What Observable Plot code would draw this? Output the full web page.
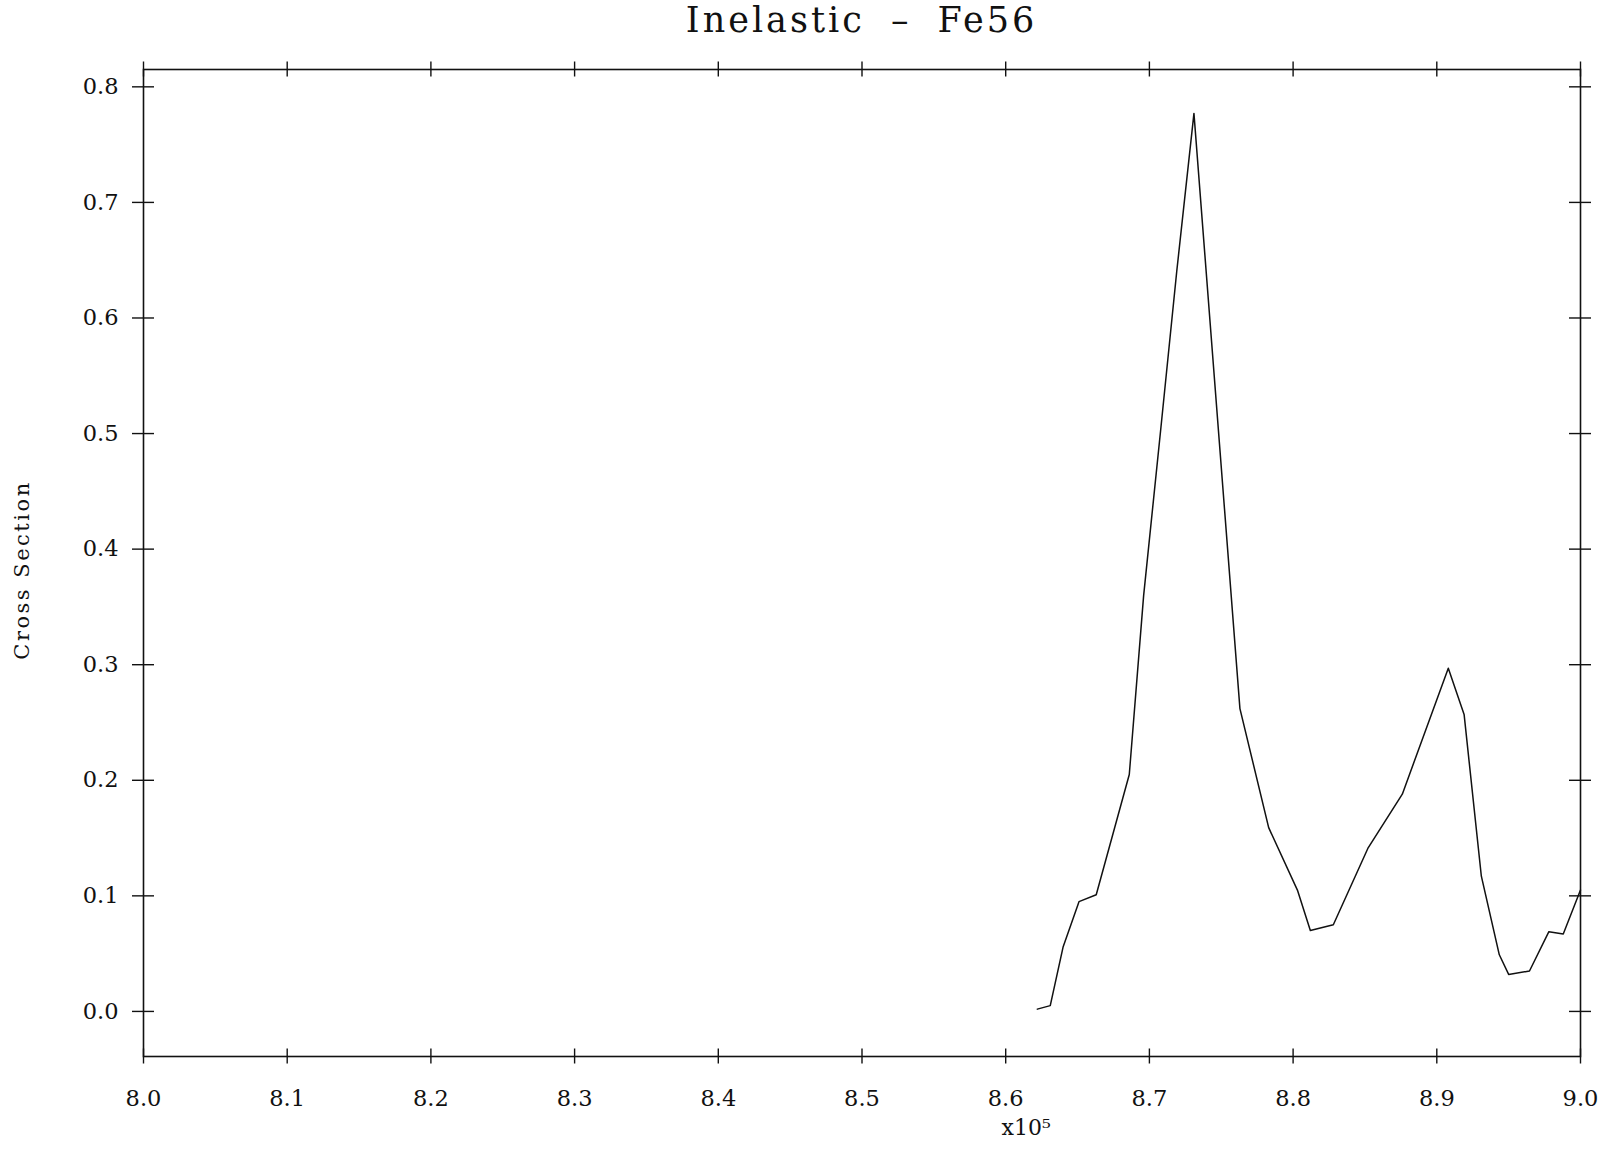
<!DOCTYPE html>
<html>
<head>
<meta charset="utf-8">
<script src="https://cdn.jsdelivr.net/npm/d3@7"></script>
<script src="https://cdn.jsdelivr.net/npm/@observablehq/plot@0.6"></script>
<style>
  html, body { margin: 0; padding: 0; background: #fff; }
  #title {
    box-sizing: border-box;
    width: 1580px;
    height: 46px;
    padding-left: 143px;
    padding-top: 3px;
    text-align: center;
    font-family: "DejaVu Serif", serif;
    font-size: 35px;
    line-height: 35px;
    letter-spacing: 3px;
    word-spacing: 12px;
    color: #111;
  }
</style>
</head>
<body>
<div id="title">Inelastic – Fe56</div>
<div id="chart"></div>
<script>
// Energy (x10^5) and cross section
const energy = [8.622, 8.631, 8.640, 8.651, 8.663, 8.686, 8.696, 8.708, 8.719, 8.731,
                8.763, 8.783, 8.803, 8.812, 8.828, 8.852, 8.876, 8.908, 8.919, 8.931,
                8.9435, 8.950, 8.9645, 8.978, 8.988, 9.000];
const crossSection = [0.002, 0.005, 0.056, 0.095, 0.101, 0.205, 0.36, 0.505, 0.64, 0.777,
                      0.262, 0.159, 0.105, 0.070, 0.075, 0.141, 0.188, 0.297, 0.257, 0.117,
                      0.049, 0.032, 0.035, 0.069, 0.067, 0.105];
const xTicks = [8.0, 8.1, 8.2, 8.3, 8.4, 8.5, 8.6, 8.7, 8.8, 8.9, 9.0];
const yTicks = [0.0, 0.1, 0.2, 0.3, 0.4, 0.5, 0.6, 0.7, 0.8];
const yLabel = "Cross Section";
const xLabel = "x10\u2075";

const xDomain = [8.0, 9.0];
const yDomain = [-0.039, 0.815];
const data = energy.map((e, i) => ({e, cs: crossSection[i]}));
const fmt = d3.format(".1f");
const ink = "#111";

const chart = Plot.plot({
  width: 1602,
  height: 1104,
  marginTop: 23,
  marginBottom: 94,
  marginLeft: 143,
  marginRight: 22,
  x: {domain: xDomain, axis: "bottom", ticks: xTicks, tickSize: 0, tickPadding: 34, tickFormat: fmt, label: null},
  y: {domain: yDomain, axis: "left", ticks: yTicks, tickSize: 0, tickPadding: 25, tickFormat: fmt, label: null},
  style: {fontFamily: "DejaVu Serif, serif", fontSize: "22.5px", background: "#fff", color: ink},
  marks: [
    Plot.frame({stroke: ink, strokeWidth: 1.6}),
    // crossing tick marks on the four sides of the frame
    Plot.ruleX(xTicks, {x: d => d, y1: () => yDomain[0], y2: () => yDomain[0], insetTop: -7.5, insetBottom: -7.5, stroke: ink, strokeWidth: 1.4}),
    Plot.ruleX(xTicks, {x: d => d, y1: () => yDomain[1], y2: () => yDomain[1], insetTop: -7.5, insetBottom: -7.5, stroke: ink, strokeWidth: 1.4}),
    Plot.ruleY(yTicks, {y: d => d, x1: () => xDomain[0], x2: () => xDomain[0], insetLeft: -11, insetRight: -11, stroke: ink, strokeWidth: 1.4}),
    Plot.ruleY(yTicks, {y: d => d, x1: () => xDomain[1], x2: () => xDomain[1], insetLeft: -11, insetRight: -11, stroke: ink, strokeWidth: 1.4}),
    Plot.text([yLabel], {frameAnchor: "left", textAnchor: "middle", lineAnchor: "middle", rotate: -90, dx: -121, dy: 7, fontSize: 21, fill: ink}),
    Plot.text([xLabel], {frameAnchor: "bottom-left", textAnchor: "start", lineAnchor: "middle", dx: 858, dy: 71, fontSize: 22, fill: ink}),
    Plot.line(data, {x: "e", y: "cs", stroke: ink, strokeWidth: 1.5})
  ]
});
d3.select(chart).selectAll("text").filter(function() { return this.textContent === yLabel; })
  .style("letter-spacing", "2.5px");
document.getElementById("chart").appendChild(chart);
</script>
</body>
</html>
